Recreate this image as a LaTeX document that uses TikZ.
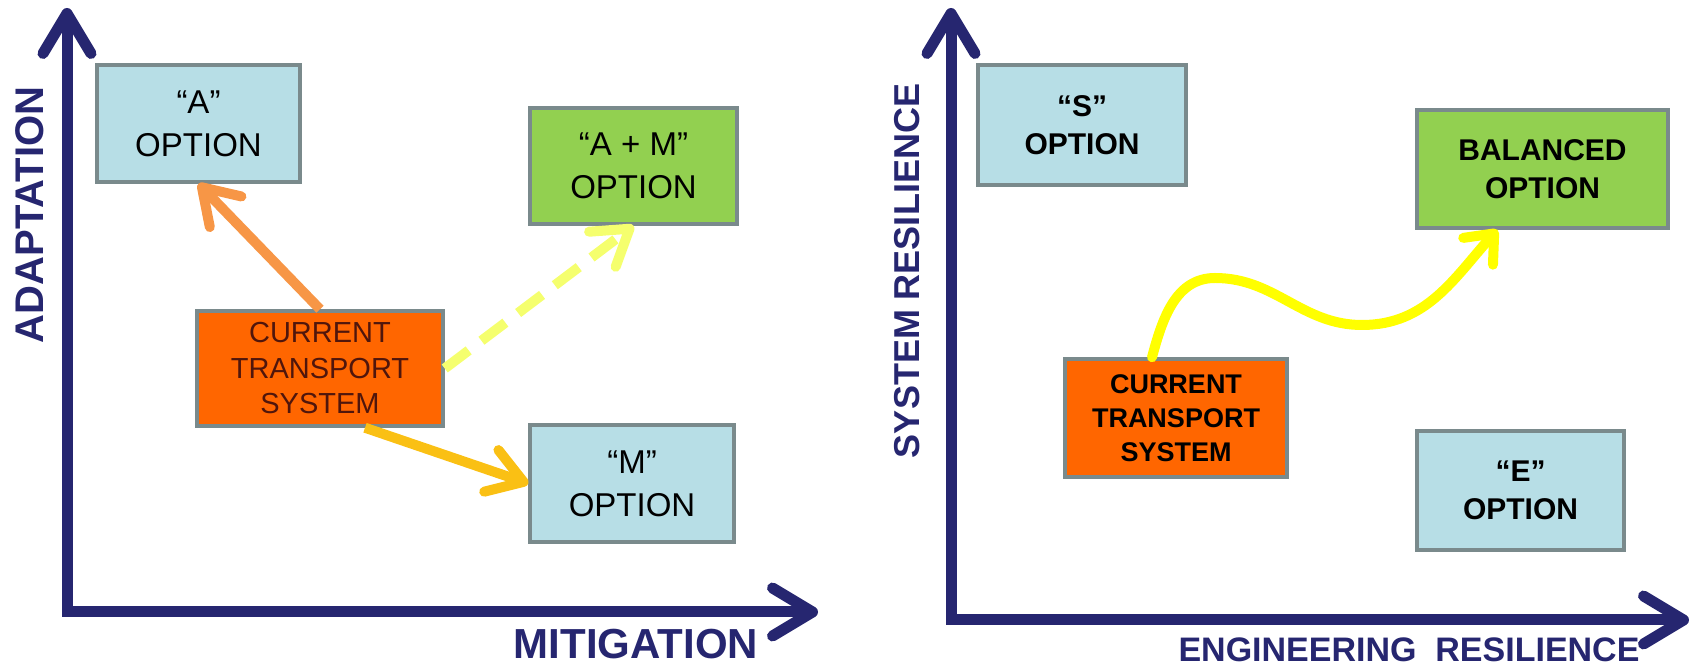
\documentclass[tikz,border=0pt]{standalone}
\usepackage{fontspec}
\setmainfont{Liberation Sans}
\usetikzlibrary{arrows.meta}
\definecolor{axisblue}{RGB}{38,38,112}
\definecolor{optblue}{RGB}{183,222,230}
\definecolor{optgreen}{RGB}{146,208,80}
\definecolor{curorange}{RGB}{255,102,0}
\definecolor{boxline}{RGB}{122,138,140}
\definecolor{curtext}{RGB}{80,22,12}
\definecolor{arrowA}{RGB}{247,150,70}
\definecolor{arrowM}{RGB}{250,192,20}
\definecolor{arrowAM}{RGB}{245,255,110}
\definecolor{wavy}{RGB}{255,255,0}
\tikzset{
  axisline/.style={draw=axisblue, line width=11pt, line join=miter,
    {Straight Barb[length=40pt,width=48pt,round]}-{Straight Barb[length=40pt,width=48pt,round]}},
  axislabel/.style={text=axisblue, font=\fontsize{#1}{#1}\selectfont\bfseries},
  optbox/.style={draw=boxline, line width=3.5pt, inner sep=0pt, align=center},
  move/.style={line width=10pt, -{Straight Barb[length=34pt,width=44pt,round]}}
}
\begin{document}
\begin{tikzpicture}[x=1pt,y=1pt]
\useasboundingbox (0,0) rectangle (1695,668);
% left panel: adaptation / mitigation
\coordinate (ltop) at (67,660);
\coordinate (lo) at (67,56);
\coordinate (lright) at (818,56);
\draw[axisline] (ltop) -- (lo) -- (lright);
\node[axislabel=40, rotate=90] (adapt) at (30,453) {ADAPTATION};
\node[axislabel=42] (mitig) at (636,24) {MITIGATION};
\node[optbox, fill=optblue, minimum width=203pt, minimum height=117pt,
  font=\fontsize{33}{43}\selectfont] (aopt) at (198.5,544.5) {“A”\\OPTION};
\node[optbox, fill=optgreen, minimum width=207pt, minimum height=116pt,
  font=\fontsize{33}{43}\selectfont] (amopt) at (633.5,502) {“A + M”\\OPTION};
\node[optbox, fill=optblue, minimum width=204pt, minimum height=117pt,
  font=\fontsize{33}{43}\selectfont] (mopt) at (632,184.5) {“M”\\OPTION};
\node[optbox, fill=curorange, text=curtext, minimum width=246pt, minimum height=115pt,
  font=\fontsize{29}{35.5}\selectfont] (cur) at (320,299.5) {CURRENT\\TRANSPORT\\SYSTEM};
\draw[move, draw=arrowA] (cur.north) -- (aopt.south);
\draw[move, draw=arrowAM, dash pattern=on 30pt off 16pt] (cur.east) -- (amopt.south);
\draw[move, draw=arrowM] ([xshift=45pt]cur.south) -- (mopt.west);
% right panel: system / engineering resilience
\coordinate (rtop) at (951,660);
\coordinate (ro) at (951,48);
\coordinate (rright) at (1689,48);
\draw[axisline] (rtop) -- (ro) -- (rright);
\node[axislabel=36, rotate=90] (sysres) at (907,397) {SYSTEM RESILIENCE};
\node[axislabel=34] (engres) at (1409,18) {ENGINEERING\ \ RESILIENCE};
\node[optbox, fill=optblue, minimum width=208pt, minimum height=120pt,
  font=\fontsize{30}{38}\selectfont\bfseries] (sopt) at (1082,543) {“S”\\OPTION};
\node[optbox, fill=optgreen, minimum width=251pt, minimum height=118pt,
  font=\fontsize{30}{38}\selectfont\bfseries] (balopt) at (1542.5,499) {BALANCED\\OPTION};
\node[optbox, fill=optblue, minimum width=207pt, minimum height=119pt,
  font=\fontsize{30}{38}\selectfont\bfseries] (eopt) at (1520.5,177.5) {“E”\\OPTION};
\node[optbox, fill=curorange, minimum width=222pt, minimum height=118pt,
  font=\fontsize{27}{34}\selectfont\bfseries] (cur2) at (1176,250) {CURRENT\\TRANSPORT\\SYSTEM};
\coordinate (crest) at (1215,390);
\coordinate (trough) at (1362,343);
\draw[move, draw=wavy, line cap=round, -{Straight Barb[length=24pt,width=40pt,round]}]
  ([xshift=-24pt]cur2.north) to[out=75,in=180] (crest) to[out=0,in=180] (trough)
  to[out=0,in=228] ([xshift=-45pt]balopt.south);
\end{tikzpicture}
\end{document}
